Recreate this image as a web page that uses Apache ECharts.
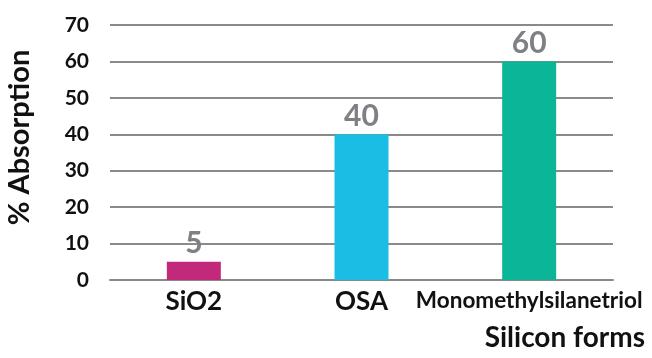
<!DOCTYPE html>
<html><head><meta charset="utf-8">
<script src="https://cdn.jsdelivr.net/npm/echarts@6/dist/echarts.min.js"></script>
<style>html,body{margin:0;padding:0;background:#fff}#c{width:652px;height:358px}</style>
</head><body><div id="c"></div>
<script>
const categories = ['SiO2', 'OSA', 'Monomethylsilanetriol'];
const values = [5, 40, 60];
const barColors = ['#C2297A', '#1BBDE4', '#0BB597'];
const yTicks = [0, 10, 20, 30, 40, 50, 60, 70];
const catFontSizes = [26, 26, 22.5];

const chart = echarts.init(document.getElementById('c'), null, {renderer: 'canvas'});
const font = 'Lato, "Open Sans", sans-serif';
chart.setOption({
  animation: false,
  grid: {left: 110, right: 39, top: 25, bottom: 78, containLabel: false, outerBoundsMode: 'none'},
  xAxis: {
    type: 'category',
    data: categories.map((c, i) => ({value: c, textStyle: {fontSize: catFontSizes[i]}})),
    name: 'Silicon forms', nameLocation: 'end',
    nameGap: 0,
    nameTextStyle: {fontFamily: font, fontWeight: 'bold', fontSize: 28, color: '#111', align: 'right', verticalAlign: 'top', padding: [44, -32, 0, 0]},
    axisLine: {lineStyle: {color: '#8a8a8a', width: 2}},
    axisTick: {show: false},
    axisLabel: {fontFamily: font, fontWeight: 'bold', fontSize: 26, color: '#111', margin: 9, interval: 0}
  },
  yAxis: {
    type: 'value', min: 0, max: 70, interval: 10,
    name: '% Absorption', nameLocation: 'middle', nameGap: 76,
    nameTextStyle: {fontFamily: font, fontWeight: 'bold', fontSize: 29, color: '#111', padding: [0, 0, 0, 30]},
    axisLine: {show: false}, axisTick: {show: false},
    splitLine: {lineStyle: {color: '#8a8a8a', width: 2}},
    axisLabel: {fontFamily: font, fontWeight: 'bold', fontSize: 21, color: '#111', margin: 21,
      formatter: v => yTicks.includes(v) ? String(v) : ''}
  },
  series: [{
    type: 'bar', barWidth: 54,
    data: values.map((v, i) => ({value: v, itemStyle: {color: barColors[i]}})),
    label: {show: true, position: 'top', distance: 3, fontFamily: font, fontWeight: 'bold', fontSize: 30, color: '#7f8085'}
  }]
});
</script></body></html>
